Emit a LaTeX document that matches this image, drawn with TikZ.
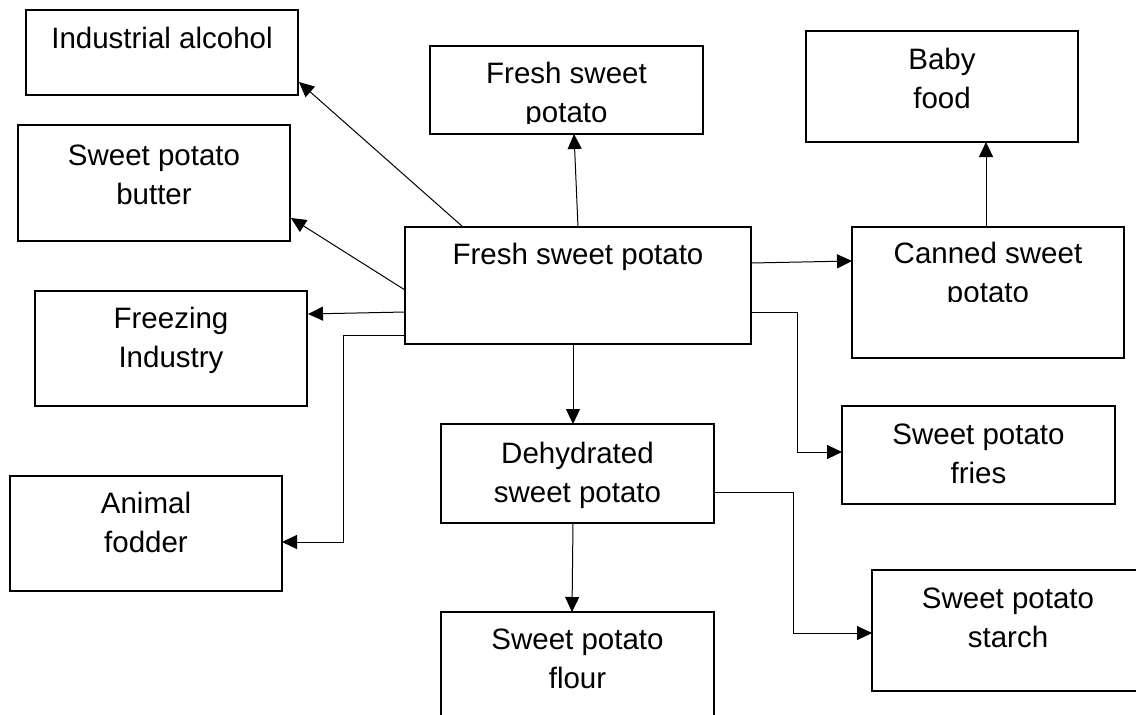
\documentclass[tikz,border=0pt]{standalone}
\usepackage{fontspec}
\setmainfont{Liberation Sans}
\usetikzlibrary{arrows.meta,calc}
\begin{document}
\begin{tikzpicture}[x=1pt,y=-1pt,
  box/.style={draw, line width=1.2pt, anchor=north west, inner sep=0pt, outer sep=0pt},
  txt/.style={font=\fontsize{29.5}{39}\selectfont, align=center, inner sep=0pt, anchor=base},
  txttwo/.style={txt, yshift=-39pt},
  conn/.style={line width=1pt, -{Triangle[length=15pt,width=14pt]}}]
\clip (0,0) rectangle (1136,715);
\fill[white] (0,0) rectangle (1136,715);
% boxes
\node[box, minimum width=272pt, minimum height=85pt] (ia) at (26,10) {};
\node[box, minimum width=272pt, minimum height=116pt] (bt) at (18,125) {};
\node[box, minimum width=272pt, minimum height=115pt] (fz) at (35,291) {};
\node[box, minimum width=272pt, minimum height=115pt] (af) at (10,476) {};
\node[box, minimum width=273pt, minimum height=88pt] (tf) at (430,46) {};
\node[box, minimum width=346pt, minimum height=117pt] (c) at (405,227) {};
\node[box, minimum width=272pt, minimum height=111pt] (bf) at (806,31) {};
\node[box, minimum width=272pt, minimum height=131pt] (cn) at (852,227) {};
\node[box, minimum width=273pt, minimum height=99pt] (dh) at (441,424) {};
\node[box, minimum width=273pt, minimum height=98pt] (fr) at (842,406) {};
\node[box, minimum width=273pt, minimum height=150pt] (fl) at (441,612) {};
\node[box, minimum width=272pt, minimum height=121pt] (st) at (872,570) {};
% texts
\node[txt] (tia) at ($(ia.north)+(0,38)$) {Industrial alcohol};
\node[txttwo] (tbt) at ($(bt.north)+(0,40)$) {Sweet potato\\butter};
\node[txttwo] (tfz) at ($(fz.north)+(0,37)$) {Freezing\\Industry};
\node[txttwo] (taf) at ($(af.north)+(0,37)$) {Animal\\fodder};
\begin{scope}
\clip (tf.north west) rectangle ($(tf.south east)+(0,-11)$);
\node[txttwo] (ttf) at ($(tf.north)+(0,37)$) {Fresh sweet\\potato};
\end{scope}
\node[txt] (tc) at ($(c.north)+(0,37)$) {Fresh sweet potato};
\node[txttwo] (tbf) at ($(bf.north)+(0,38)$) {Baby\\food};
\begin{scope}
\clip (cn.north west) rectangle ($(cn.south east)+(0,-57)$);
\node[txttwo] (tcn) at ($(cn.north)+(0,36)$) {Canned sweet\\potato};
\end{scope}
\node[txttwo] (tdh) at ($(dh.north)+(0,39)$) {Dehydrated\\sweet potato};
\node[txttwo] (tfr) at ($(fr.north)+(0,38)$) {Sweet potato\\fries};
\node[txttwo] (tfl) at ($(fl.north)+(0,37)$) {Sweet potato\\flour};
\node[txttwo] (tst) at ($(st.north)+(0,38)$) {Sweet potato\\starch};
% connectors
\draw[conn] ($(c.north west)+(58,0)$) -- ($(ia.north east)+(1,72)$);
\draw[conn] ($(c.north west)+(0,63)$) -- ($(bt.north east)+(1,93)$);
\draw[conn] ($(c.north west)+(0,85)$) -- ($(fz.north east)+(1,23)$);
\draw[conn] ($(c.north west)+(0,108)$) -- ++(-62,0) |- ($(af.north east)+(0,66)$);
\draw[conn] ($(c.north west)+(173,0)$) -- ($(tf.south west)+(144,0)$);
\draw[conn] ($(c.north east)+(0,36)$) -- ($(cn.north west)+(0,34)$);
\draw[conn] ($(c.north east)+(0,85)$) -- ++(46,0) |- ($(fr.north west)+(0,46)$);
\draw[conn] ($(c.south west)+(168,0)$) -- ($(dh.north west)+(132,0)$);
\draw[conn] ($(cn.north west)+(134,0)$) -- ($(bf.south west)+(180,0)$);
\draw[conn] ($(dh.south west)+(132,0)$) -- ($(fl.north west)+(131,0)$);
\draw[conn] ($(dh.north east)+(0,68)$) -- ++(79,0) |- ($(st.north west)+(0,63)$);
\end{tikzpicture}
\end{document}
